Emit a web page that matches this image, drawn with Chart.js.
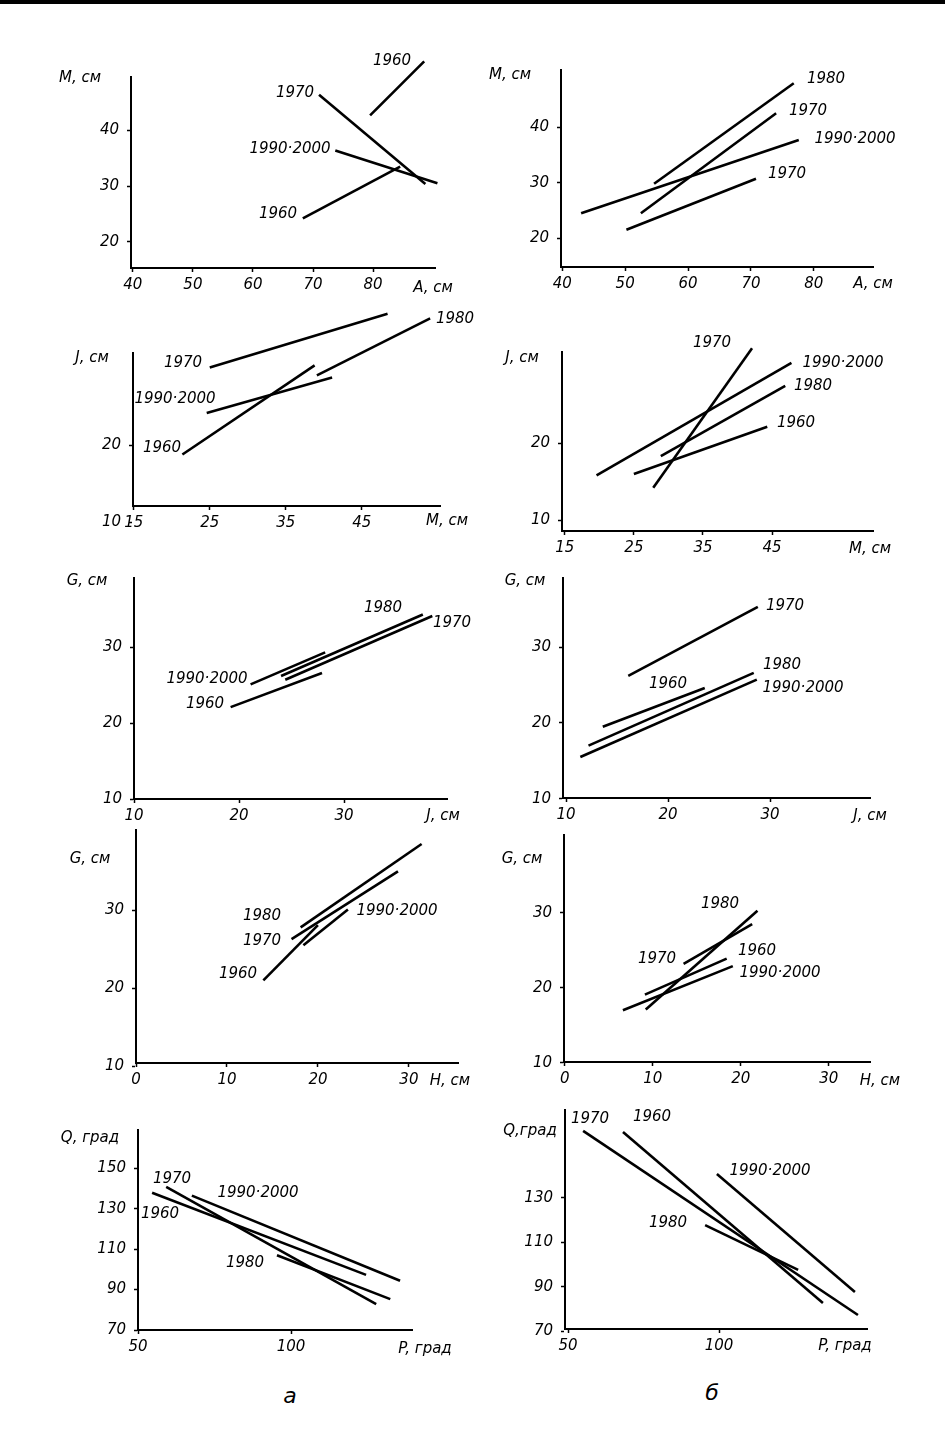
<!DOCTYPE html>
<html>
<head>
<meta charset="utf-8">
<script src="https://cdn.jsdelivr.net/npm/chart.js@4/dist/chart.umd.min.js"></script>
<style>
  body { margin: 0; background: #fff; width: 945px; height: 1451px; position: relative; overflow: hidden; }
  #topbar { position: absolute; left: 0; top: 0; width: 945px; height: 4px; background: #000; }
  canvas { position: absolute; }
  .lbl { position: absolute; transform: translate(-50%, -50%); font: italic 15px "DejaVu Sans"; white-space: nowrap; color: #000; }
  .big { font: italic 22px "DejaVu Sans"; }
</style>
</head>
<body>
<div id="topbar"></div>
<script>
// ===== Data =====
// row 1: M vs A
const a1Years = ["1960", "1970", "1990·2000", "1960"];
const a1X = [[79.5, 88.5], [71, 88.7], [73.7, 90.7], [68.3, 84.5]];
const a1Y = [[42.7, 52.4], [46.4, 30.4], [36.4, 30.5], [24.2, 33.5]];
const b1Years = ["1980", "1970", "1990·2000", "1970"];
const b1X = [[54.6, 76.8], [52.5, 74], [43, 77.6], [50.2, 70.8]];
const b1Y = [[29.8, 47.9], [24.5, 42.5], [24.5, 37.7], [21.5, 30.7]];
// row 2: J vs M
const a2Years = ["1970", "1980", "1990·2000", "1960"];
const a2X = [[25, 48.4], [39.1, 54], [24.6, 41.1], [21.4, 38.8]];
const a2Y = [[30.1, 37.1], [29.1, 36.5], [24.2, 28.8], [18.8, 30.4]];
const b2Years = ["1970", "1990·2000", "1980", "1960"];
const b2X = [[27.8, 42.1], [19.6, 47.8], [28.9, 46.9], [25, 44.3]];
const b2Y = [[14.2, 32.3], [15.8, 30.4], [18.3, 27.4], [16, 22.1]];
// row 3: G vs J
const a3Years = ["1990·2000", "1960", "1980", "1970"];
const a3X = [[21.1, 28.2], [19.2, 27.9], [24, 37.5], [24.4, 38.4]];
const a3Y = [[25.1, 29.3], [22.1, 26.6], [26.2, 34.3], [25.7, 34.1]];
const b3Years = ["1970", "1960", "1980", "1990·2000"];
const b3X = [[16.1, 28.8], [13.6, 23.6], [12.2, 28.4], [11.4, 28.7]];
const b3Y = [[26.2, 35.3], [19.5, 24.6], [17, 26.6], [15.5, 25.7]];
// row 4: G vs H
const a4Years = ["1980", "1970", "1990·2000", "1960"];
const a4X = [[18.1, 31.4], [17.1, 28.8], [18.4, 23.3], [14, 20]];
const a4Y = [[27.8, 38.5], [26.3, 35], [25.5, 30.1], [21, 28.1]];
const b4Years = ["1980", "1970", "1960", "1990·2000"];
const b4X = [[9.2, 21.9], [13.5, 21.3], [9.1, 18.4], [6.6, 19.1]];
const b4Y = [[17.1, 30.3], [23.2, 28.5], [19.1, 23.9], [17, 22.9]];
// row 5: Q vs P
const a5Years = ["1970", "1990·2000", "1960", "1980"];
const a5X = [[59.2, 127.8], [67.6, 135.6], [54.6, 124.5], [95.4, 132.4]];
const a5Y = [[140.8, 82.8], [136.5, 94.4], [137.9, 97.3], [107, 85.3]];
const b5Years = ["1970", "1960", "1990·2000", "1980"];
const b5X = [[55, 146], [68.2, 134.4], [99.3, 145], [95.4, 126.2]];
const b5Y = [[160.2, 77.3], [159.7, 82.7], [140.8, 87.7], [117.8, 97.6]];

// tick labels
const ticksA = [40, 50, 60, 70, 80];
const ticksM1 = [20, 30, 40];
const ticksM2x = [15, 25, 35, 45];
const ticksJ = [10, 20];
const ticksJx = [10, 20, 30];
const ticksG = [10, 20, 30];
const ticksH = [0, 10, 20, 30];
const ticksP = [50, 100];
const ticksQa = [70, 90, 110, 130, 150];
const ticksQb = [70, 90, 110, 130];

// ===== Layout (page px of plot area + axis ranges) =====
const panels = [
  { L: 131, T: 77, R: 435, B: 268, x: [39.7, 90.3], y: [15.3, 49.6], xt: ticksA, yt: ticksM1, years: a1Years, xs: a1X, ys: a1Y,
    lab: [[392, 60], [295, 92], [290, 148], [278, 213]], yTitle: ["M, см", 80, 77], xTitle: ["A, см", 433, 287] },
  { L: 561, T: 70, R: 873, B: 267, x: [39.8, 89.4], y: [14.8, 50.3], xt: ticksA, yt: ticksM1, years: b1Years, xs: b1X, ys: b1Y,
    lab: [[826, 78], [808, 110], [855, 138], [787, 173]], yTitle: ["M, см", 510, 74], xTitle: ["A, см", 873, 283] },
  { L: 133, T: 353, R: 440, B: 506, x: [14.9, 55.3], y: [12.1, 32], xt: ticksM2x, yt: ticksJ, years: a2Years, xs: a2X, ys: a2Y,
    lab: [[183, 362], [455, 318], [175, 398], [162, 447]], yTitle: ["J, см", 92, 357], xTitle: ["M, см", 447, 520] },
  { L: 562, T: 352, R: 873, B: 531, x: [14.6, 59.6], y: [8.6, 31.8], xt: ticksM2x, yt: ticksJ, years: b2Years, xs: b2X, ys: b2Y,
    lab: [[712, 342], [843, 362], [813, 385], [796, 422]], yTitle: ["J, см", 522, 357], xTitle: ["M, см", 870, 548] },
  { L: 134, T: 578, R: 447, B: 799, x: [10, 39.8], y: [10, 39.1], xt: ticksJx, yt: ticksG, years: a3Years, xs: a3X, ys: a3Y,
    lab: [[207, 678], [205, 703], [383, 607], [452, 622]], yTitle: ["G, см", 87, 580], xTitle: ["J, см", 443, 815] },
  { L: 563, T: 578, R: 870, B: 798, x: [9.7, 39.8], y: [10.1, 39.1], xt: ticksJx, yt: ticksG, years: b3Years, xs: b3X, ys: b3Y,
    lab: [[785, 605], [668, 683], [782, 664], [803, 687]], yTitle: ["G, см", 525, 580], xTitle: ["J, см", 870, 815] },
  { L: 136, T: 830, R: 458, B: 1063, x: [0, 35.4], y: [10.4, 40.3], xt: ticksH, yt: ticksG, years: a4Years, xs: a4X, ys: a4Y,
    lab: [[262, 915], [262, 940], [397, 910], [238, 973]], yTitle: ["G, см", 90, 858], xTitle: ["H, см", 450, 1080] },
  { L: 564, T: 835, R: 870, B: 1062, x: [-0.1, 34.7], y: [10.1, 40.4], xt: ticksH, yt: ticksG, years: b4Years, xs: b4X, ys: b4Y,
    lab: [[720, 903], [657, 958], [757, 950], [780, 972]], yTitle: ["G, см", 522, 858], xTitle: ["H, см", 880, 1080] },
  { L: 138, T: 1130, R: 412, B: 1330, x: [50, 139.5], y: [70, 169], xt: ticksP, yt: ticksQa, years: a5Years, xs: a5X, ys: a5Y,
    lab: [[172, 1178], [258, 1192], [160, 1213], [245, 1262]], yTitle: ["Q, град", 90, 1137], xTitle: ["P, град", 425, 1348] },
  { L: 565, T: 1110, R: 867, B: 1329, x: [49, 149], y: [71, 169.6], xt: ticksP, yt: ticksQb, years: b5Years, xs: b5X, ys: b5Y,
    lab: [[590, 1118], [652, 1116], [770, 1170], [668, 1222]], yTitle: ["Q,град", 530, 1130], xTitle: ["P, град", 845, 1345] },
];

// generous top padding so segments reaching above the axis top are not cut by the canvas edge
const PAD = { left: 5, top: 50, right: 10, bottom: 10 };
const YW = 40, XH = 30;
const tickFont = { family: "DejaVu Sans", style: "italic", size: 15 };

function addLabel(text, x, y, cls) {
  const d = document.createElement("div");
  d.className = "lbl" + (cls ? " " + cls : "");
  d.textContent = text;
  d.style.left = x + "px";
  d.style.top = y + "px";
  document.body.appendChild(d);
}

panels.forEach((p) => {
  const cv = document.createElement("canvas");
  const w = p.R - p.L + YW + PAD.left + PAD.right;
  const h = p.B - p.T + XH + PAD.top + PAD.bottom;
  cv.width = w; cv.height = h;
  cv.style.left = (p.L - YW - PAD.left) + "px";
  cv.style.top = (p.T - PAD.top) + "px";
  cv.style.width = w + "px"; cv.style.height = h + "px";
  document.body.appendChild(cv);

  const datasets = p.years.map((yr, i) => ({
    label: yr,
    data: [{ x: p.xs[i][0], y: p.ys[i][0] }, { x: p.xs[i][1], y: p.ys[i][1] }],
    showLine: true,
    borderColor: "#000",
    borderWidth: 2.6,
    pointRadius: 0,
    clip: false,
  }));

  const axis = (min, max, vals, isX) => ({
    type: "linear",
    min, max,
    afterBuildTicks: (s) => { s.ticks = vals.map((v) => ({ value: v })); },
    afterFit: (s) => { if (isX) s.height = XH; else s.width = YW; },
    ticks: { color: "#000", font: tickFont, padding: isX ? 4 : 8, autoSkip: false },
    grid: { drawOnChartArea: false, color: "#000", tickLength: 4, tickWidth: 1.5 },
    border: { color: "#000", width: 2 },
  });

  new Chart(cv, {
    type: "scatter",
    data: { datasets },
    options: {
      responsive: false,
      animation: false,
      devicePixelRatio: 1,
      layout: { padding: PAD },
      plugins: { legend: { display: false }, tooltip: { enabled: false } },
      scales: { x: axis(p.x[0], p.x[1], p.xt, true), y: axis(p.y[0], p.y[1], p.yt, false) },
    },
  });

  p.years.forEach((yr, i) => addLabel(yr, p.lab[i][0], p.lab[i][1]));
  addLabel(p.yTitle[0], p.yTitle[1], p.yTitle[2]);
  addLabel(p.xTitle[0], p.xTitle[1], p.xTitle[2]);
});

addLabel("а", 290, 1395, "big");
addLabel("б", 712, 1392, "big");
</script>
</body>
</html>
